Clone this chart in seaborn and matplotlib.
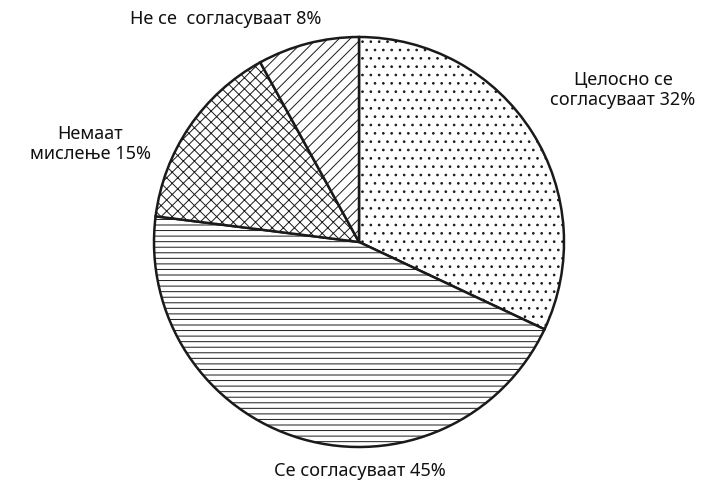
import matplotlib
matplotlib.use("Agg")
import matplotlib.pyplot as plt
import seaborn as sns

labels = ["Целосно се\nсогласуваат 32%", "Се согласуваат 45%", "Немаат\nмислење 15%", "Не се  согласуваат 8%"]
values = [32, 45, 15, 8]
hatches = ["..", "---", "xxx", "///"]
label_pos = [(1.288, 0.741), (0.005, -1.117), (-1.31, 0.478), (-0.649, 1.088)]

sns.set_theme(style="white")
plt.rcParams["font.family"] = ["Noto Sans", "DejaVu Sans"]
plt.rcParams["hatch.linewidth"] = 0.7
plt.rcParams["hatch.color"] = "#333333"

fig = plt.figure(figsize=(7.17, 4.86), dpi=100)
ax = fig.add_axes([154 / 717, 39 / 486, 410 / 717, 410 / 486])
wedges, _ = ax.pie(values, startangle=90, counterclock=False,
                   colors=["white"] * 4,
                   wedgeprops=dict(edgecolor="#1a1a1a", linewidth=1.8))
for w, h in zip(wedges, hatches):
    w.set_hatch(h)
ax.set_xlim(-1, 1)
ax.set_ylim(-1, 1)
ax.set_aspect("equal")
for lab, (x, y) in zip(labels, label_pos):
    ax.text(x, y, lab, ha="center", va="center", fontsize=13, color="#111111",
            linespacing=1.2, clip_on=False)
fig.savefig("out.png", dpi=100)
